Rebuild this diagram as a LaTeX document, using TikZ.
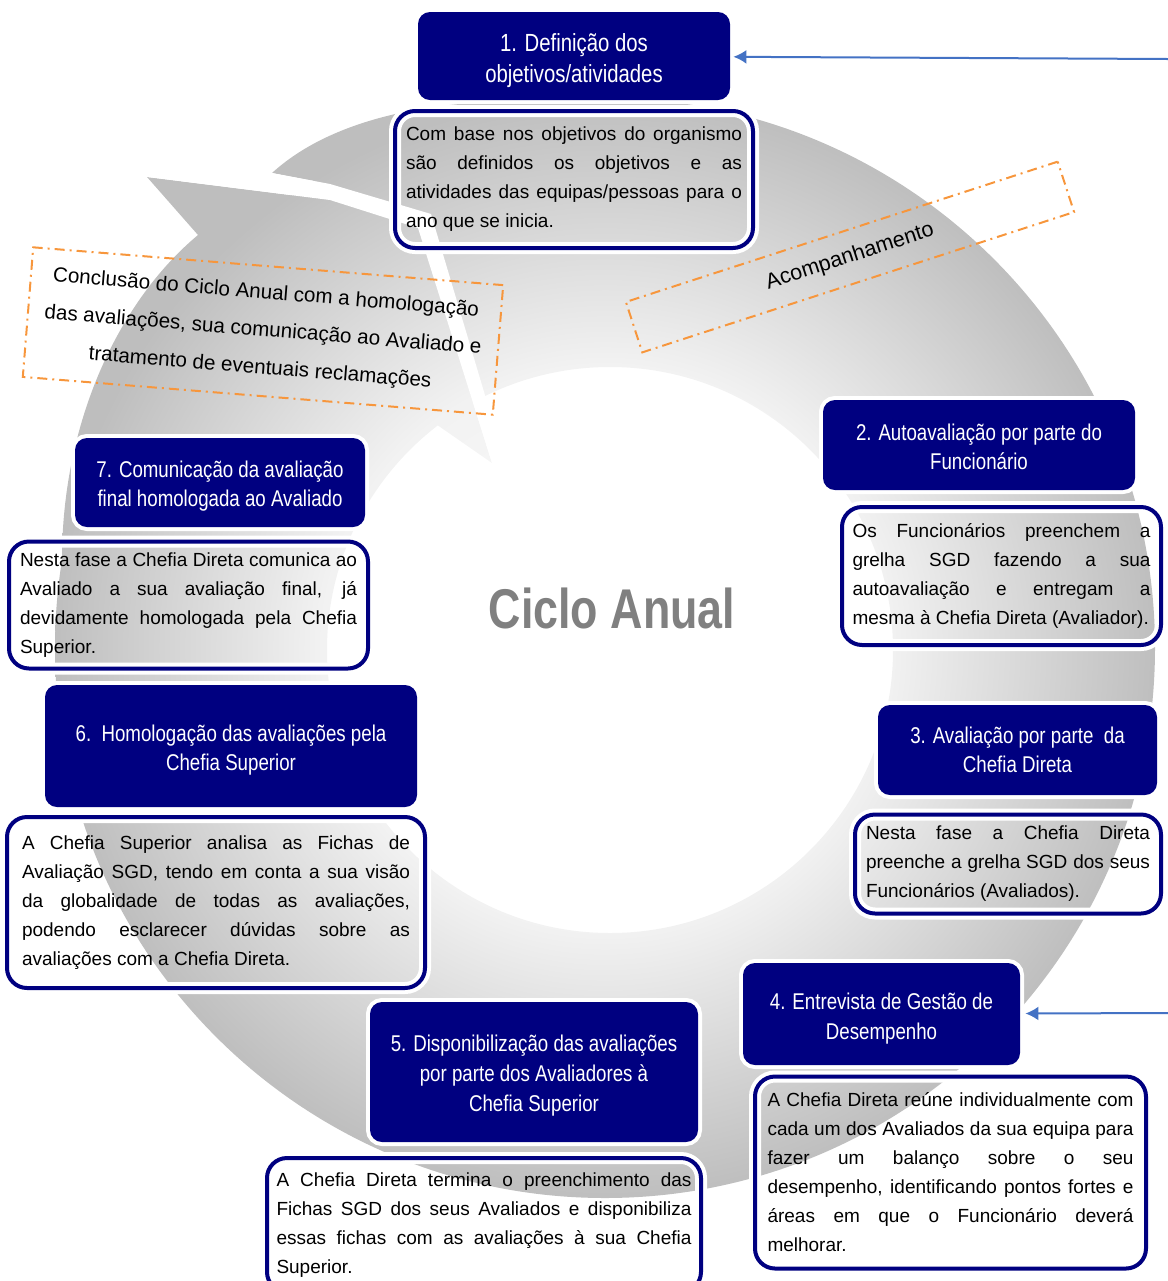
\documentclass[tikz,border=0pt]{standalone}
\usepackage{fontspec}
\setmainfont{Liberation Sans}
\newfontfamily\hdrfont[FakeStretch=0.82]{Liberation Sans}
\newfontfamily\ttlfont[FakeStretch=0.8]{Liberation Sans}
\usetikzlibrary{arrows.meta}
\definecolor{navyc}{RGB}{0,0,128}
\definecolor{arrowblue}{RGB}{68,114,196}
\definecolor{dashorange}{RGB}{247,150,60}
\definecolor{titlegray}{RGB}{128,128,128}
\definecolor{ringin}{RGB}{242,242,242}
\definecolor{ringout}{RGB}{190,190,190}
\pgfdeclareradialshading{ringshade}{\pgfpoint{0bp}{0bp}}{color(0bp)=(white); color(10.4bp)=(ringin); color(20.3bp)=(ringout); color(50bp)=(ringout)}
\newcommand\hup[1]{\rule{0pt}{#1pt}}
\begin{document}
\begin{tikzpicture}[x=0.5pt,y=-0.5pt,
  hdr/.style={rectangle, rounded corners=6pt, fill=navyc, preaction={draw=white, line width=4pt}, text=white, align=center, inner sep=0pt, font=\hdrfont\fontsize{11.4}{14.5}\selectfont},
  descbox/.style={rectangle, rounded corners=10pt, draw=navyc, line width=2pt, preaction={draw=white, line width=6pt}, inner sep=0pt, align=justify, text=black, font=\fontsize{9.5}{14.5}\selectfont},
  dashbox/.style={rectangle, draw=dashorange, line width=1pt, dash pattern=on 5pt off 2.5pt on 1pt off 2.5pt, inner sep=0pt, align=center, text=black},
  conn/.style={draw=arrowblue, line width=1pt, -{Latex[length=6.5pt,width=7pt]}}]
\useasboundingbox (0,0) rectangle (1168,1281);

% ring body
\begin{scope}[even odd rule]
  \clip (605,648) circle[radius=275pt] (610,650) circle[radius=141.5pt];
  \shade[shading=ringshade] (605,648) circle[radius=340pt];
\end{scope}
% arrow head (with flared body near it)
\begin{scope}
  \clip (147,177) -- (330,200) -- (418,228) -- (492,463) -- (420,413) -- (200,480) -- (62,560)
        .. controls (62,420) and (120,300) .. (198,235) -- cycle;
  \shade[shading=ringshade] (605,648) circle[radius=340pt];
\end{scope}
% flared tail end
\begin{scope}
  \clip (272,173) .. controls (330,120) and (430,98) .. (540,102) -- (560,230) -- (431,214) -- (330,184) -- cycle;
  \shade[shading=ringshade] (605,648) circle[radius=340pt];
\end{scope}
% gap between arrow head and tail
\fill[white] (147,177) -- (330,200) -- (418,228) -- (492,463) -- (504,459) -- (431,214) -- (330,184) -- (272,173) -- cycle;

% dashed annotation boxes
\node[dashbox, rotate=-4.6, minimum width=235.75pt, minimum height=65pt, font=\fontsize{10.3}{18.75}\selectfont] (concl) at (263,331) {Conclusão do Ciclo Anual com a homologação\\das avaliações, sua comunicação ao Avaliado e\\tratamento de eventuais reclamações};
\node[dashbox, rotate=18, minimum width=227pt, minimum height=26.5pt, font=\fontsize{10.8}{12}\selectfont] (acomp) at (850,257) {Acompanhamento};

% header boxes
\node[hdr, minimum width=156pt, minimum height=44pt, font=\hdrfont\fontsize{12.4}{15.5}\selectfont] (h1) at (574,56) {\hup{13.8}1. Definição dos\\objetivos/atividades};
\node[hdr, minimum width=156pt, minimum height=45pt] (h2) at (979,445) {\hup{10.5}2. Autoavaliação por parte do\\Funcionário};
\node[hdr, minimum width=139.5pt, minimum height=45pt] (h3) at (1017.5,750) {3. Avaliação por parte\ \ da\\Chefia Direta};
\node[hdr, minimum width=138.5pt, minimum height=51pt, font=\hdrfont\fontsize{11.4}{15}\selectfont] (h4) at (881.5,1014) {\hup{13}4. Entrevista de Gestão de\\Desempenho};
\node[hdr, minimum width=164pt, minimum height=70pt, font=\hdrfont\fontsize{11.4}{15}\selectfont] (h5) at (534,1072) {\hup{12}5. Disponibilização das avaliações\\por parte dos Avaliadores à\\Chefia Superior};
\node[hdr, minimum width=186pt, minimum height=61pt] (h6) at (231,746) {\hup{12.5}6.\ \ Homologação das avaliações pela\\Chefia Superior};
\node[hdr, minimum width=145pt, minimum height=44.5pt] (h7) at (220,482.5) {\hup{12}7. Comunicação da avaliação\\final homologada ao Avaliado};

% description boxes
\node[descbox, minimum width=179pt, minimum height=68.5pt, text width=168pt] (d1) at (574,179.5) {Com base nos objetivos do organismo\linebreak são definidos os objetivos e as\linebreak atividades das equipas/pessoas para o\linebreak ano que se inicia.};
\node[descbox, minimum width=159.5pt, minimum height=69pt, text width=149pt] (d2) at (1001.5,576) {Os Funcionários preenchem a\linebreak grelha SGD fazendo a sua\linebreak autoavaliação e entregam a\linebreak mesma à Chefia Direta (Avaliador).};
\node[descbox, minimum width=153pt, minimum height=49.5pt, text width=142pt] (d3) at (1008,864) {Nesta fase a Chefia Direta\linebreak preenche a grelha SGD dos seus\linebreak Funcionários (Avaliados).};
\node[descbox, minimum width=195.5pt, minimum height=96pt, text width=183pt] (d4) at (950.5,1172.5) {A Chefia Direta reúne individualmente com\linebreak cada um dos Avaliados da sua equipa para\linebreak fazer um balanço sobre o seu\linebreak desempenho, identificando pontos fortes e\linebreak áreas em que o Funcionário deverá\linebreak melhorar.};
\node[descbox, minimum width=217pt, minimum height=67pt, text width=207.5pt] (d5) at (484,1225) {A Chefia Direta termina o preenchimento das\linebreak Fichas SGD dos seus Avaliados e disponibiliza\linebreak essas fichas com as avaliações à sua Chefia\linebreak Superior.};
\node[descbox, minimum width=209pt, minimum height=85.5pt, text width=194pt] (d6) at (216,902.5) {A Chefia Superior analisa as Fichas de\linebreak Avaliação SGD, tendo em conta a sua visão\linebreak da globalidade de todas as avaliações,\linebreak podendo esclarecer dúvidas sobre as\linebreak avaliações com a Chefia Direta.};
\node[descbox, minimum width=179.5pt, minimum height=63.5pt, text width=168.5pt] (d7) at (188.5,605) {Nesta fase a Chefia Direta comunica ao\linebreak Avaliado a sua avaliação final, já\linebreak devidamente homologada pela Chefia\linebreak Superior.};

% title
\node[font=\ttlfont\bfseries\fontsize{28}{30}\selectfont, text=titlegray, inner sep=0pt] (title) at (612,608) {Ciclo Anual};

% incoming arrows
\coordinate (s1) at (1168,59);
\coordinate (s4) at (1168,1013);
\draw[conn, shorten >=1.5pt] (s1) -- (h1);
\draw[conn, shorten >=2.5pt] (s4) -- (h4);
\end{tikzpicture}
\end{document}
